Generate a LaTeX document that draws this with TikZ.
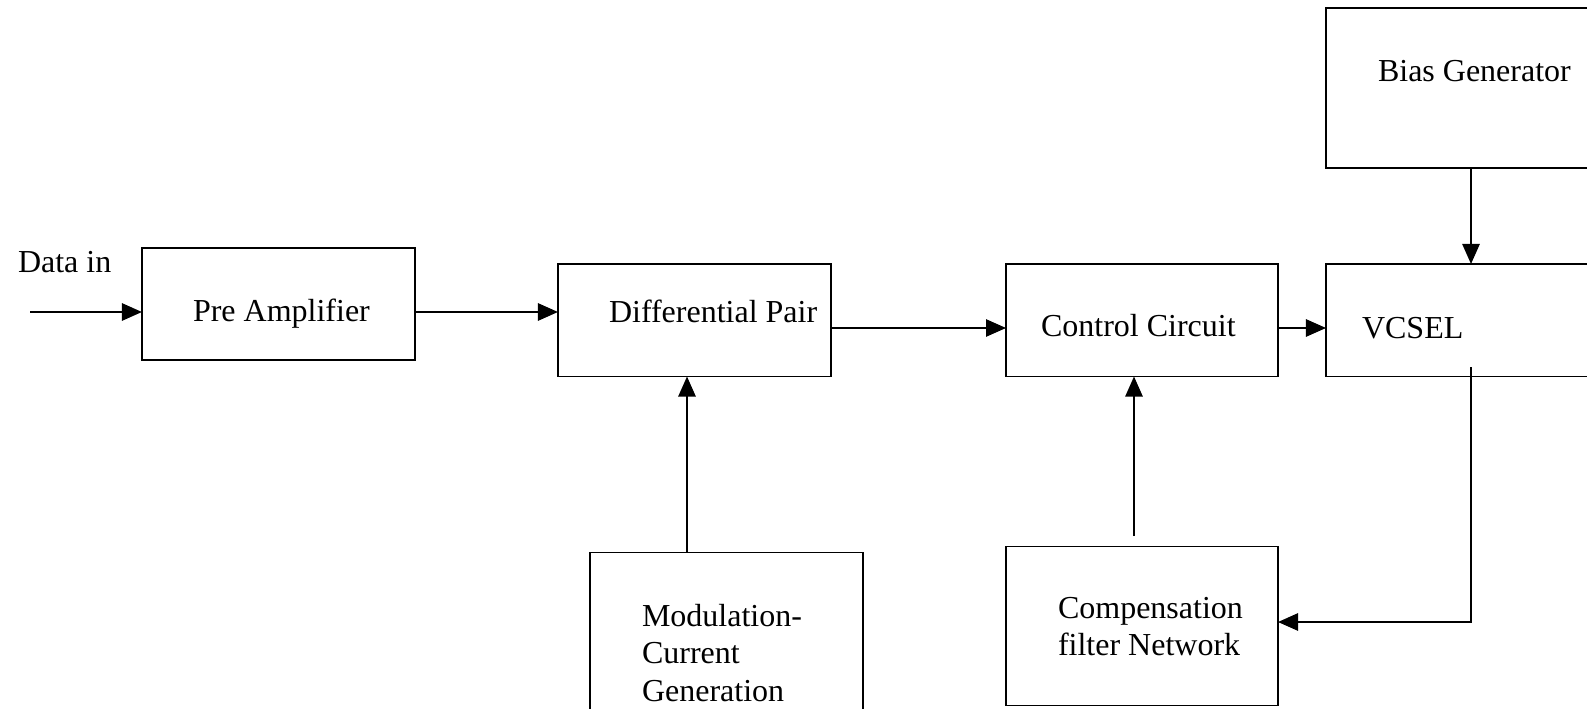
\documentclass[tikz,border=0pt]{standalone}
\usepackage{fontspec}
\setmainfont{Liberation Serif}
\usetikzlibrary{arrows.meta}
\tikzset{
  box/.style={draw, line width=0.7pt, rectangle, inner sep=0pt, outer sep=0pt},
  lbl/.style={inner sep=0pt, outer sep=0pt, anchor=west, font=\fontsize{12}{13.9}\selectfont},
  arr/.style={line width=0.6pt, -{Triangle[length=7.5pt,width=6.5pt]}},
  ln/.style={line width=0.6pt}
}
\begin{document}
\begin{tikzpicture}[x=0.375pt,y=-0.375pt]
\useasboundingbox (0,0) rectangle (1587,709);
\clip (0,0) rectangle (1587,709);
% boxes
\node[box, minimum width=102.4pt, minimum height=42pt] (pre) at (278.5,304) {};
\node[box, minimum width=102.4pt, minimum height=42.2pt] (diff) at (694.5,320.25) {};
\node[box, minimum width=102pt, minimum height=42.2pt] (ctrl) at (1142,320.25) {};
\node[box, minimum width=102.4pt, minimum height=42.2pt] (vcsel) at (1462.5,320.25) {};
\node[box, minimum width=102.4pt, minimum height=60pt] (bias) at (1462.5,88) {};
\node[box, minimum width=102pt, minimum height=59.6pt] (comp) at (1142,626) {};
\node[box, minimum width=102.4pt, minimum height=59.6pt] (mod) at (726.5,632) {};
% texts
\node[lbl] (datain) at (18,262) {Data in};
\node[lbl] (pretxt) at (193,314) {Pre Amplifier};
\node[lbl] (difftxt) at (609,311) {Differential Pair};
\node[lbl] (ctrltxt) at (1041,326) {Control Circuit};
\node[lbl] (vcseltxt) at (1362,328) {VCSEL};
\node[lbl] (biastxt) at (1378,71) {Bias Generator};
\node[lbl, align=left] (comptxt) at (1058,627) {Compensation\\filter Network};
\node[lbl, align=left] (modtxt) at (642,653) {Modulation-\\Current\\Generation};
% connector helpers
\coordinate (in) at (30,312);
\coordinate (r2) at (0,328);
\coordinate (bx) at (1471,0);
\coordinate (fb) at (1471,367);
\coordinate (fy) at (0,622);
\coordinate (cx) at (1134,536);
\coordinate (mx) at (687,0);
% connectors
\draw[arr] (in) -- (in -| pre.west);
\draw[arr] (pre.east |- in) -- (diff.west |- in);
\draw[arr] (diff.east |- r2) -- (ctrl.west |- r2);
\draw[arr] (ctrl.east |- r2) -- (vcsel.west |- r2);
\draw[arr] (bias.south -| bx) -- (vcsel.north -| bx);
\draw[arr] (fb) |- (comp.east |- fy);
\draw[arr] (cx) -- (ctrl.south -| cx);
\draw[arr] (mod.north -| mx) -- (diff.south -| mx);
\end{tikzpicture}
\end{document}
